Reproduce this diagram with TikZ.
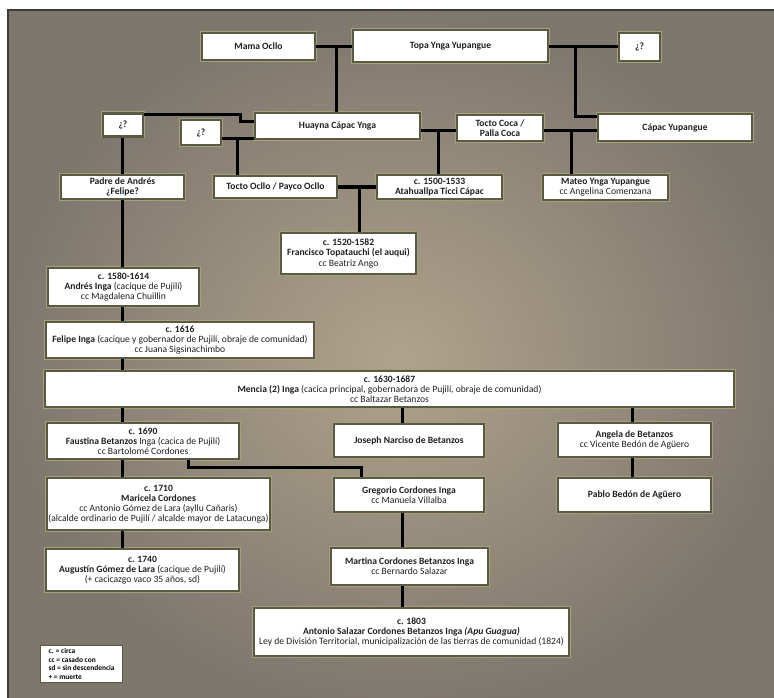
\documentclass[tikz,border=0pt]{standalone}
\usepackage{fontspec}
\setmainfont{Carlito}
\definecolor{bgedge}{HTML}{7E776E}
\definecolor{bgmid}{HTML}{B0A38B}
\definecolor{frameline}{HTML}{3E3C3A}
\definecolor{boxedge}{HTML}{5A5A44}
\definecolor{boxhalo}{HTML}{A3A07E}
\definecolor{textgrey}{HTML}{202020}
\begin{document}
\begin{tikzpicture}[x=1pt,y=-1pt,
  box/.style={draw=boxedge, line width=2.4pt, fill=white,
    preaction={draw=boxhalo, line width=4pt},
    inner sep=1pt, align=center, text=textgrey,
    font=\fontsize{9.6}{10.1}\selectfont},
  legendbox/.style={draw=boxedge, line width=1.2pt, fill=white, inner sep=2pt,
    align=left, anchor=north west, text=black,
    font=\fontsize{7.4}{8.6}\selectfont\bfseries},
  link/.style={line width=3pt, black}]
\useasboundingbox (0,0) rectangle (774,698);
% background
\begin{scope}
\clip (0,0) rectangle (774,698);
\fill[white] (0,0) rectangle (774,698);
\shade[inner color=bgmid, outer color=bgedge] (8,10) rectangle (790,710);
\draw[frameline, line width=1.6pt] (8,10) rectangle (790,710);
\end{scope}
% nodes
\node[box, minimum width=113pt, minimum height=27pt] (mama) at (258.5,46.5) {\textbf{Mama Ocllo}};
\node[box, minimum width=195pt, minimum height=32pt] (topa) at (450.5,46) {\textbf{Topa Ynga Yupangue}};
\node[box, minimum width=41pt, minimum height=28pt] (q1) at (639.5,47) {\textbf{¿?}};
\node[box, minimum width=40pt, minimum height=23pt] (qL) at (123,125) {\textbf{¿?}};
\node[box, minimum width=40pt, minimum height=25pt] (q2) at (201,132.5) {\textbf{¿?}};
\node[box, minimum width=165pt, minimum height=26pt] (huayna) at (337.5,126) {\textbf{Huayna Cápac Ynga}};
\node[box, minimum width=86pt, minimum height=26pt] (toctococa) at (500,128) {\textbf{Tocto Coca /}\\\textbf{Palla Coca}};
\node[box, minimum width=154pt, minimum height=27pt] (capac) at (675,127.5) {\textbf{Cápac Yupangue}};
\node[box, minimum width=123pt, minimum height=24pt] (padre) at (122.5,187) {\textbf{Padre de Andrés}\\\textbf{¿Felipe?}};
\node[box, minimum width=123pt, minimum height=22pt] (toctoocllo) at (275.5,187) {\textbf{Tocto Ocllo / Payco Ocllo}};
\node[box, minimum width=125pt, minimum height=24pt] (atahuallpa) at (439.5,187) {\textbf{c. 1500-1533}\\\textbf{Atahuallpa Ticci Cápac}};
\node[box, minimum width=125pt, minimum height=25pt] (mateo) at (605.5,187.5) {\textbf{Mateo Ynga Yupangue}\\cc Angelina Comenzana};
\node[box, minimum width=135pt, minimum height=41pt] (francisco) at (348.5,253.5) {\textbf{c. 1520-1582}\\\textbf{Francisco Topatauchi (el auqui)}\\cc Beatriz Ango};
\node[box, minimum width=151pt, minimum height=38pt] (andres) at (123.5,287) {\textbf{c. 1580-1614}\\\textbf{Andrés\ Inga} (cacique de Pujilí)\\cc Magdalena Chuillin};
\node[box, minimum width=268pt, minimum height=36pt] (felipe) at (180,340) {\textbf{c. 1616}\\\textbf{Felipe Inga} (cacique y gobernador de Pujilí, obraje de comunidad)\\cc Juana Sigsinachimbo};
\node[box, minimum width=689pt, minimum height=36pt] (mencia) at (389.5,389) {\textbf{c. 1630-1687}\\\textbf{Mencia (2) Inga} (cacica principal, gobernadora de Pujilí, obraje de comunidad)\\cc Baltazar Betanzos};
\node[box, minimum width=192pt, minimum height=36pt] (faustina) at (143,441) {\textbf{c. 1690}\\\textbf{Faustina Betanzos} Inga (cacica de Pujilí)\\cc Bartolomé Cordones};
\node[box, minimum width=150pt, minimum height=33pt] (joseph) at (409,440.5) {\textbf{Joseph Narciso de Betanzos}};
\node[box, minimum width=153pt, minimum height=34pt] (angela) at (634.5,440) {\textbf{Angela de Betanzos}\\cc Vicente Bedón de Agüero};
\node[box, minimum width=223pt, minimum height=52pt] (maricela) at (158.5,504) {\textbf{c. 1710}\\\textbf{Maricela Cordones}\\cc Antonio Gómez de Lara (ayllu Cañaris)\\(alcalde ordinario de Pujilí / alcalde mayor de Latacunga)};
\node[box, minimum width=150pt, minimum height=34pt] (gregorio) at (409,495) {\textbf{Gregorio Cordones Inga}\\cc Manuela Villalba};
\node[box, minimum width=153pt, minimum height=34pt] (pablo) at (634.5,495) {\textbf{Pablo Bedón de Agüero}};
\node[box, minimum width=193pt, minimum height=42pt] (augustin) at (142.5,570) {\textbf{c. 1740}\\\textbf{Augustín Gómez de Lara} (cacique de Pujilí)\\(+ cacicazgo vaco 35 años, sd)};
\node[box, minimum width=157pt, minimum height=37pt] (martina) at (409.5,566.5) {\textbf{Martina Cordones Betanzos Inga}\\cc Bernardo Salazar};
\node[box, minimum width=315pt, minimum height=48pt] (antonio) at (411.5,632) {\textbf{c. 1803}\\\textbf{Antonio Salazar Cordones Betanzos Inga \textit{(Apu Guagua)}}\\Ley de División Territorial, municipalización de las tierras de comunidad (1824)};
\node[legendbox, minimum width=82pt, minimum height=37pt] (legend) at (40,645) {c. = circa\\cc = casado con\\sd = sin descendencia\\+ = muerte};
% junction coordinates
\coordinate (mtj) at (336,46.5);
\coordinate (tqj) at (575,46.5);
\coordinate (capin) at (597,117);
\coordinate (qa) at (240,115);
\coordinate (qb) at (240,122);
\coordinate (q2j) at (237,139);
\coordinate (hj) at (438,131);
\coordinate (cj) at (571,131);
\coordinate (aj) at (359,187);
\coordinate (lx) at (122,0);
\coordinate (mx) at (402,0);
\coordinate (ax) at (632,0);
\coordinate (fg1) at (188,467);
\coordinate (fg2) at (361,467);
% connectors
\draw[link] (mtj -| mama.east) -- (mtj -| topa.west);
\draw[link] (mtj) -- (mtj |- huayna.north);
\draw[link] (tqj -| topa.east) -- (tqj -| q1.west);
\draw[link] (tqj) -- (tqj |- capin) -- (capin -| capac.west);
\draw[link] (qa -| qL.east) -- (qa) -- (qb) -- (qb -| huayna.west);
\draw[link] (q2j -| q2.east) -- (q2j -| huayna.west);
\draw[link] (q2j) -- (q2j |- toctoocllo.north);
\draw[link] (hj -| huayna.east) -- (hj -| toctococa.west);
\draw[link] (hj) -- (hj |- atahuallpa.north);
\draw[link] (cj -| toctococa.east) -- (cj -| capac.west);
\draw[link] (cj) -- (cj |- mateo.north);
\draw[link] (aj -| toctoocllo.east) -- (aj -| atahuallpa.west);
\draw[link] (aj) -- (aj |- francisco.north);
\draw[link] (lx |- qL.south) -- (lx |- padre.north);
\draw[link] (lx |- padre.south) -- (lx |- andres.north);
\draw[link] (lx |- andres.south) -- (lx |- felipe.north);
\draw[link] (lx |- felipe.south) -- (lx |- mencia.north);
\draw[link] (lx |- mencia.south) -- (lx |- faustina.north);
\draw[link] (mx |- mencia.south) -- (mx |- joseph.north);
\draw[link] (ax |- mencia.south) -- (ax |- angela.north);
\draw[link] (lx |- faustina.south) -- (lx |- maricela.north);
\draw[link] (fg1 |- faustina.south) -- (fg1) -- (fg2) -- (fg2 |- gregorio.north);
\draw[link] (ax |- angela.south) -- (ax |- pablo.north);
\draw[link] (lx |- maricela.south) -- (lx |- augustin.north);
\draw[link] (mx |- gregorio.south) -- (mx |- martina.north);
\draw[link] (mx |- martina.south) -- (mx |- antonio.north);
\end{tikzpicture}
\end{document}
